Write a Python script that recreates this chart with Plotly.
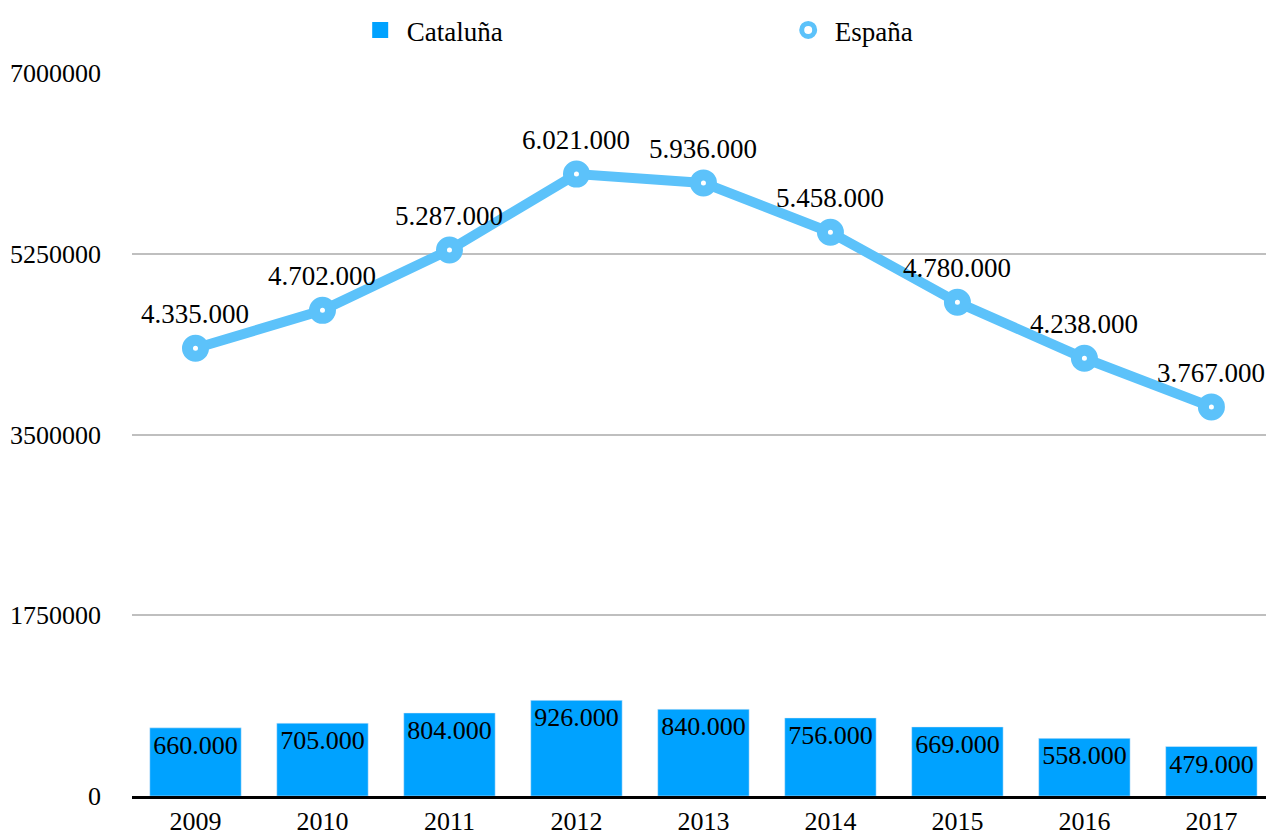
import plotly.graph_objects as go

years = ["2009", "2010", "2011", "2012", "2013", "2014", "2015", "2016", "2017"]
cataluna = [660000, 705000, 804000, 926000, 840000, 756000, 669000, 558000, 479000]
espana = [4335000, 4702000, 5287000, 6021000, 5936000, 5458000, 4780000, 4238000, 3767000]
y_ticks = [0, 1750000, 3500000, 5250000, 7000000]

def fmt(v):
    return f"{v:,}".replace(",", ".")

BAR = "#00A2FF"
LINE = "#5CC2FA"
FONT = "Liberation Serif"

fig = go.Figure()
fig.add_trace(go.Bar(
    x=years, y=cataluna, name="Cataluña", marker_color=BAR, width=0.72,
    text=[fmt(v) for v in cataluna], textposition="inside", insidetextanchor="end",
    textfont=dict(family=FONT, size=26, color="black"), constraintext="none",
    cliponaxis=False, showlegend=False,
))
fig.add_trace(go.Scatter(
    x=years, y=espana, name="España", mode="lines+markers",
    line=dict(color=LINE, width=10),
    marker=dict(symbol="circle", size=16, color="white", line=dict(color=LINE, width=11)),
    showlegend=False, cliponaxis=False,
))
# legend entries
fig.add_trace(go.Scatter(
    x=[None], y=[None], name="Cataluña", mode="markers",
    marker=dict(symbol="square", size=16, color=BAR, line=dict(width=0)),
))
fig.add_trace(go.Scatter(
    x=[None], y=[None], name="España", mode="markers",
    marker=dict(symbol="circle", size=13, color="white", line=dict(color=LINE, width=5)),
))

for i, v in enumerate(espana):
    fig.add_annotation(x=i, y=v, xref="x", yref="y", text=fmt(v), showarrow=False,
                       yshift=34, font=dict(family=FONT, size=27, color="black"))

fig.update_layout(
    width=1266, height=833,
    margin=dict(l=132, r=0, t=73, b=37, autoexpand=False),
    paper_bgcolor="white", plot_bgcolor="white",
    font=dict(family=FONT, size=26, color="black"),
    showlegend=True,
    legend=dict(orientation="h", x=0.1955, xanchor="left", y=1.025, yanchor="bottom",
                itemwidth=43, entrywidth=370, entrywidthmode="pixels",
                font=dict(family=FONT, size=27, color="black"), traceorder="normal"),
    xaxis=dict(type="category", range=[-0.5, 8.43], showgrid=False, automargin=False,
               showline=True, linecolor="black", linewidth=3,
               tickfont=dict(family=FONT, size=26), ticks="", ticklabelstandoff=0),
    yaxis=dict(range=[0, 7000000], tickvals=y_ticks, tickformat="d", automargin=False,
               showgrid=True, gridcolor="#BFBFBF", gridwidth=2,
               zeroline=False, showline=False, ticks="",
               tickfont=dict(family=FONT, size=26), ticklabelstandoff=30),
)

fig.write_html("out.html", config={"displayModeBar": False},
               post_script="document.body.style.margin='0';")
